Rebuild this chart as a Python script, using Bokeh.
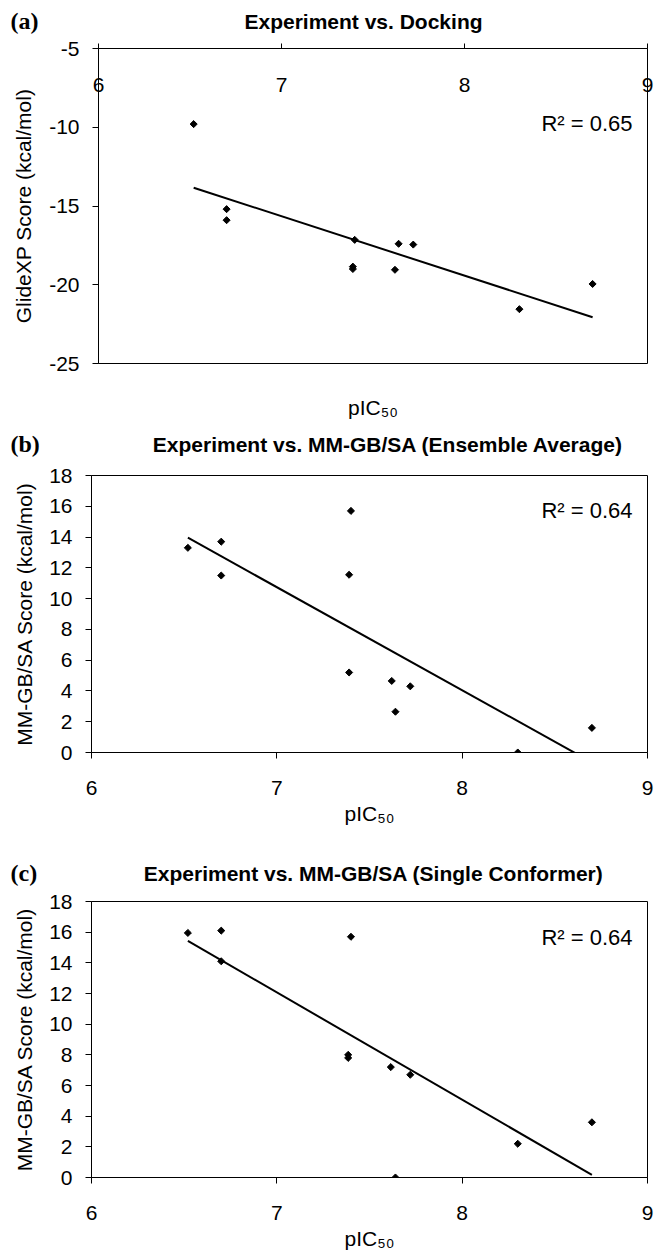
import numpy as np
from bokeh.plotting import figure
from bokeh.layouts import column, row
from bokeh.models import LinearAxis, FixedTicker, Label, Range1d
from bokeh.embed import file_html
from bokeh.resources import INLINE

SANS = "Liberation Sans"
SERIF = "Liberation Serif"

# ---------------- data ----------------
pic50_a = [6.52, 6.70, 6.70, 7.40, 7.39, 7.39, 7.64, 7.72, 7.62, 8.30, 8.70]
glidexp_a = [-9.8, -15.2, -15.9, -17.15, -18.85, -19.0, -17.4, -17.45, -19.05, -21.55, -19.95]

pic50_b = [6.52, 6.70, 6.70, 7.40, 7.39, 7.39, 7.62, 7.72, 7.64, 8.30, 8.70]
mmgbsa_ens_b = [13.3, 13.7, 11.5, 15.7, 11.55, 5.2, 4.65, 4.3, 2.65, 0.0, 1.6]

pic50_c = [6.52, 6.70, 6.70, 7.40, 7.385, 7.385, 7.615, 7.72, 7.64, 8.30, 8.70]
mmgbsa_single_c = [15.95, 16.1, 14.1, 15.7, 8.0, 7.8, 7.2, 6.7, 0.0, 2.2, 3.6]

x_ticks = [6, 7, 8, 9]
y_ticks_a = [-25, -20, -15, -10, -5]
y_ticks_bc = [0, 2, 4, 6, 8, 10, 12, 14, 16, 18]

panel_tags = ["(a)", "(b)", "(c)"]
titles = ["Experiment vs. Docking",
          "Experiment vs. MM-GB/SA (Ensemble Average)",
          "Experiment vs. MM-GB/SA (Single Conformer)"]
r2_texts = ["R\u00b2 = 0.65", "R\u00b2 = 0.64", "R\u00b2 = 0.64"]
y_titles = ["GlideXP Score (kcal/mol)", "MM-GB/SA Score (kcal/mol)", "MM-GB/SA Score (kcal/mol)"]
x_title = "pIC\u2085\u2080"


def style_axis(ax, ticks):
    ax.ticker = FixedTicker(ticks=ticks)
    ax.major_label_overrides = {t: str(t) for t in ticks}
    ax.major_label_text_font = SANS
    ax.major_label_text_font_size = "21px"
    ax.major_label_text_color = "black"
    ax.axis_line_color = "black"
    ax.major_tick_line_color = "black"
    ax.minor_tick_line_color = None
    ax.major_tick_in = 0
    ax.major_tick_out = 6
    ax.axis_label_text_font = SANS
    ax.axis_label_text_font_size = "21px"
    ax.axis_label_text_font_style = "normal"
    ax.axis_label_text_color = "black"


def canvas_label(p, x, y, text, size, align="left", font=SANS, style="normal"):
    p.add_layout(Label(x=x, y=y, x_units="canvas", y_units="canvas", text=text,
                       text_font=font, text_font_size=size, text_font_style=style,
                       text_align=align, text_baseline="middle", text_color="black"))


def make_header(i, height, title_x, title_align, title_cy):
    # a plain strip whose frame covers the whole canvas
    h = figure(frame_width=654, frame_height=height,
               x_range=Range1d(0, 1), y_range=Range1d(0, 1),
               output_backend="svg", toolbar_location=None,
               x_axis_location=None, y_axis_location=None,
               min_border=0, min_border_left=0, min_border_right=0,
               min_border_top=0, min_border_bottom=0, align="start")
    h.title.visible = False
    h.outline_line_color = None
    for g in h.grid:
        g.visible = False
    h.background_fill_color = "white"
    h.border_fill_color = "white"
    canvas_label(h, 10, title_cy - 1, panel_tags[i], "24px", font=SERIF, style="bold")
    canvas_label(h, title_x, title_cy, titles[i], "21px", align=title_align, style="bold")
    return h


def make_panel(i, height, top, bottom, left, y_lo, y_hi, y_ticks, xs, ys, x_on_top,
               r2_cy, ylab_standoff):
    p = figure(width=654, height=height, x_range=Range1d(6, 9), y_range=Range1d(y_lo, y_hi),
               output_backend="svg", toolbar_location=None,
               x_axis_location="above" if x_on_top else "below",
               min_border_left=left, min_border_right=7,
               min_border_top=top, min_border_bottom=bottom, align="start")
    p.outline_line_color = "black"
    p.outline_line_width = 1
    p.grid.visible = False
    p.background_fill_color = "white"
    p.border_fill_color = "white"

    style_axis(p.yaxis[0], y_ticks)
    p.yaxis[0].major_label_standoff = 13
    p.yaxis[0].axis_label = y_titles[i]
    p.yaxis[0].axis_label_standoff = ylab_standoff

    style_axis(p.xaxis[0], x_ticks)
    if x_on_top:
        p.xaxis[0].major_tick_out = 5
        p.xaxis[0].major_label_standoff = -48
        lab = LinearAxis(ticker=FixedTicker(ticks=[]))
        style_axis(lab, [])
        lab.axis_line_color = None
        lab.major_tick_line_color = None
        lab.major_label_standoff = 0
        lab.axis_label = x_title
        lab.axis_label_standoff = 32
        p.add_layout(lab, "below")
    else:
        p.xaxis[0].major_label_standoff = 22
        p.xaxis[0].axis_label = x_title
        p.xaxis[0].axis_label_standoff = 4

    # trend line (least squares) computed from the data
    slope, icpt = np.polyfit(np.array(xs), np.array(ys), 1)
    lx = np.array([min(xs), max(xs)])
    p.line(lx, slope * lx + icpt, line_color="black", line_width=2)

    p.scatter(xs, ys, marker="square", angle=np.pi / 4, size=5,
              fill_color="black", line_color="black", line_width=1)

    canvas_label(p, 632, r2_cy, r2_texts[i], "22px", align="right")
    return p


ha = make_header(0, 34, 363, "center", 21)
pa = make_panel(0, 396, 14, 67, 98, -25, -5, y_ticks_a, pic50_a, glidexp_a, True, 89, 11)
hb = make_header(1, 28, 623, "right", 14)
pb = make_panel(1, 384, 17, 90, 91, 0, 18, y_ticks_bc, pic50_b, mmgbsa_ens_b, False, 52, 10)
hc = make_header(2, 44, 603, "right", 31)
pc = make_panel(2, 370, 15, 79, 91, 0, 18, y_ticks_bc, pic50_c, mmgbsa_single_c, False, 51, 10)

layout = column(*[row(f) for f in (ha, pa, hb, pb, hc, pc)], spacing=0)
open("out.html", "w").write(file_html(layout, INLINE))
